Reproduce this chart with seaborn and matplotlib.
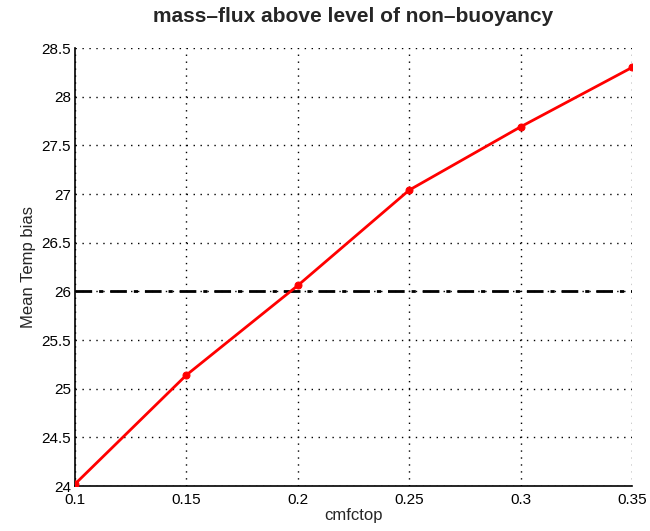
import matplotlib
matplotlib.use("Agg")
import matplotlib.pyplot as plt
import seaborn as sns
import pandas as pd

cmfctop = [0.10, 0.15, 0.20, 0.25, 0.30, 0.35]
temp_bias = [24.02, 25.14, 26.06, 27.04, 27.69, 28.30]
reference_level = 26.0
xticks = [0.1, 0.15, 0.2, 0.25, 0.3, 0.35]
yticks = [24, 24.5, 25, 25.5, 26, 26.5, 27, 27.5, 28, 28.5]

sns.set_style("white")
plt.rcParams['font.family'] = ['Liberation Sans', 'DejaVu Sans']

df = pd.DataFrame({"cmfctop": cmfctop, "bias": temp_bias})

fig = plt.figure(figsize=(6.5, 5.31), dpi=100)
ax = fig.add_axes([75/650, 1-486/531, (632-75)/650, (486-48)/531])

ax.axhline(reference_level, color="black", lw=2, linestyle=(0, (6, 2.5, 1.5, 2.5)), zorder=2)
sns.lineplot(data=df, x="cmfctop", y="bias", ax=ax, color="red", lw=2,
             marker="o", markersize=5, markeredgecolor="red", zorder=3)

ax.set_xlim(0.1, 0.35)
ax.set_ylim(24, 28.5)
ax.set_xticks(xticks)
ax.set_xticklabels([f"{t:g}" for t in xticks])
ax.set_yticks(yticks)
ax.set_yticklabels([f"{t:g}" for t in yticks])
ax.grid(True, color="black", linestyle=(0, (1, 4)), lw=1)
for s in ["top", "right"]:
    ax.spines[s].set_visible(False)
for s in ["left", "bottom"]:
    ax.spines[s].set_color("black")
    ax.spines[s].set_linewidth(1.2)
ax.tick_params(axis="both", direction="in", length=5, width=1, labelsize=11, pad=3, colors="black")
ax.tick_params(axis="x", pad=5)
ax.set_xlabel("cmfctop", fontsize=12, labelpad=1)
ax.set_ylabel("Mean Temp bias", fontsize=12, labelpad=4)
ax.set_title("mass\u2013flux above level of non\u2013buoyancy", fontsize=15, fontweight="bold", pad=19)

fig.savefig("out.png", dpi=100)
